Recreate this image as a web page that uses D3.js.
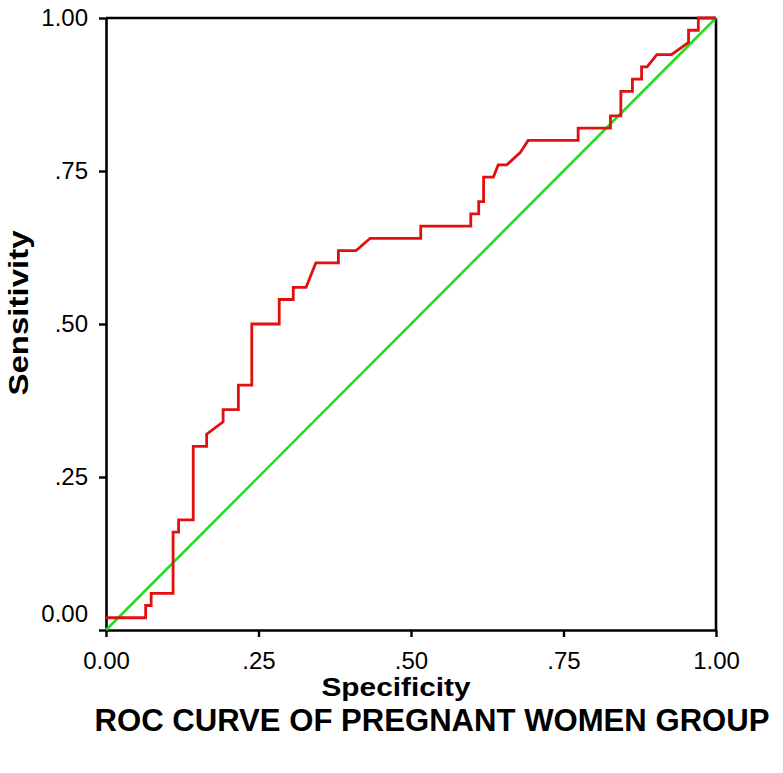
<!DOCTYPE html>
<html>
<head>
<meta charset="utf-8">
<script src="https://cdn.jsdelivr.net/npm/d3@7"></script>
<style>
  html, body { margin: 0; padding: 0; background: #fff; }
  svg { display: block; }
  text { font-family: "Liberation Sans", Arial, Helvetica, sans-serif; }
</style>
</head>
<body>
<svg id="chart" width="783" height="773"></svg>
<script>
// ROC curve points: x = 1 - specificity (labelled "Specificity"), y = sensitivity
const rocX = [0, 0.065, 0.065, 0.074, 0.074, 0.110, 0.110, 0.119, 0.119, 0.143, 0.143, 0.165, 0.165, 0.192, 0.192, 0.217, 0.217, 0.239, 0.239, 0.284, 0.284, 0.307, 0.307, 0.328, 0.344, 0.381, 0.381, 0.410, 0.433, 0.516, 0.516, 0.598, 0.598, 0.611, 0.611, 0.619, 0.619, 0.635, 0.643, 0.657, 0.679, 0.692, 0.774, 0.774, 0.827, 0.827, 0.844, 0.844, 0.863, 0.863, 0.878, 0.878, 0.887, 0.903, 0.927, 0.955, 0.955, 0.971, 0.971, 1.00];
const rocY = [0.02, 0.02, 0.04, 0.04, 0.06, 0.06, 0.16, 0.16, 0.18, 0.18, 0.30, 0.30, 0.32, 0.34, 0.36, 0.36, 0.40, 0.40, 0.50, 0.50, 0.54, 0.54, 0.56, 0.56, 0.60, 0.60, 0.62, 0.62, 0.64, 0.64, 0.66, 0.66, 0.68, 0.68, 0.70, 0.70, 0.74, 0.74, 0.76, 0.76, 0.78, 0.80, 0.80, 0.82, 0.82, 0.84, 0.84, 0.88, 0.88, 0.90, 0.90, 0.92, 0.92, 0.94, 0.94, 0.96, 0.98, 0.98, 1.00, 1.00];
const refX = [0, 1];
const refY = [0, 1];
const tickValues = [0, 0.25, 0.5, 0.75, 1];
const tickLabels = ["0.00", ".25", ".50", ".75", "1.00"];
const xTitle = "Specificity";
const yTitle = "Sensitivity";
const chartTitle = "ROC CURVE OF PREGNANT WOMEN GROUP";

(function () {
const svg = d3.select("#chart");
const mLeft = 106, mRight = 716, mTop = 18, mBottom = 630;

const x = d3.scaleLinear().domain([0, 1]).range([mLeft, mRight]);
const y = d3.scaleLinear().domain([0, 1]).range([mBottom, mTop]);

// frame (top and right)
svg.append("line").attr("x1", mLeft).attr("x2", mRight).attr("y1", mTop).attr("y2", mTop)
  .attr("stroke", "#000").attr("stroke-width", 2.6);
svg.append("line").attr("x1", mRight).attr("x2", mRight).attr("y1", mTop).attr("y2", mBottom)
  .attr("stroke", "#000").attr("stroke-width", 2.6);

// axes
const xAxis = d3.axisBottom(x).tickValues(tickValues)
  .tickFormat((d, i) => tickLabels[i]).tickSizeInner(7).tickSizeOuter(0).tickPadding(15);
const yAxis = d3.axisLeft(y).tickValues(tickValues)
  .tickFormat((d, i) => tickLabels[i]).tickSizeInner(7).tickSizeOuter(0).tickPadding(11);

const gx = svg.append("g").attr("transform", `translate(0,${mBottom})`).call(xAxis);
const gy = svg.append("g").attr("transform", `translate(${mLeft},0)`).call(yAxis);

[gx, gy].forEach(g => {
  g.select(".domain").attr("stroke", "#000").attr("stroke-width", 2.6);
  g.selectAll(".tick line").attr("stroke", "#000").attr("stroke-width", 2.4);
  g.selectAll(".tick text").attr("fill", "#000")
    .style("font-size", "24px").style("font-family", "'Liberation Sans', Arial, sans-serif");
});
// SPSS places the 0.00 y label above the baseline
gy.selectAll(".tick text").filter(d => d === 0).attr("dy", "-0.35em");

// reference diagonal
const line = d3.line().x(d => x(d[0])).y(d => y(d[1]));
svg.append("path").datum(refX.map((v, i) => [v, refY[i]]))
  .attr("d", line).attr("fill", "none").attr("stroke", "#22dd22").attr("stroke-width", 2.6);

// ROC curve
svg.append("path").datum(rocX.map((v, i) => [v, rocY[i]]))
  .attr("d", line).attr("fill", "none").attr("stroke", "#e01010").attr("stroke-width", 2.8)
  .attr("stroke-linejoin", "miter");

// titles
svg.append("text").attr("x", 396).attr("y", 696).attr("text-anchor", "middle")
  .style("font-size", "25px").style("font-weight", "bold").attr("fill", "#000")
  .attr("textLength", 149).attr("lengthAdjust", "spacingAndGlyphs").text(xTitle);

svg.append("text").attr("transform", "translate(28,313) rotate(-90)").attr("text-anchor", "middle")
  .style("font-size", "27px").style("font-weight", "bold").attr("fill", "#000")
  .attr("textLength", 165).attr("lengthAdjust", "spacingAndGlyphs").text(yTitle);

svg.append("text").attr("x", 432).attr("y", 731).attr("text-anchor", "middle")
  .style("font-size", "31px").style("font-weight", "bold").attr("fill", "#000")
  .attr("textLength", 675).attr("lengthAdjust", "spacingAndGlyphs").text(chartTitle);
})();
</script>
</body>
</html>
